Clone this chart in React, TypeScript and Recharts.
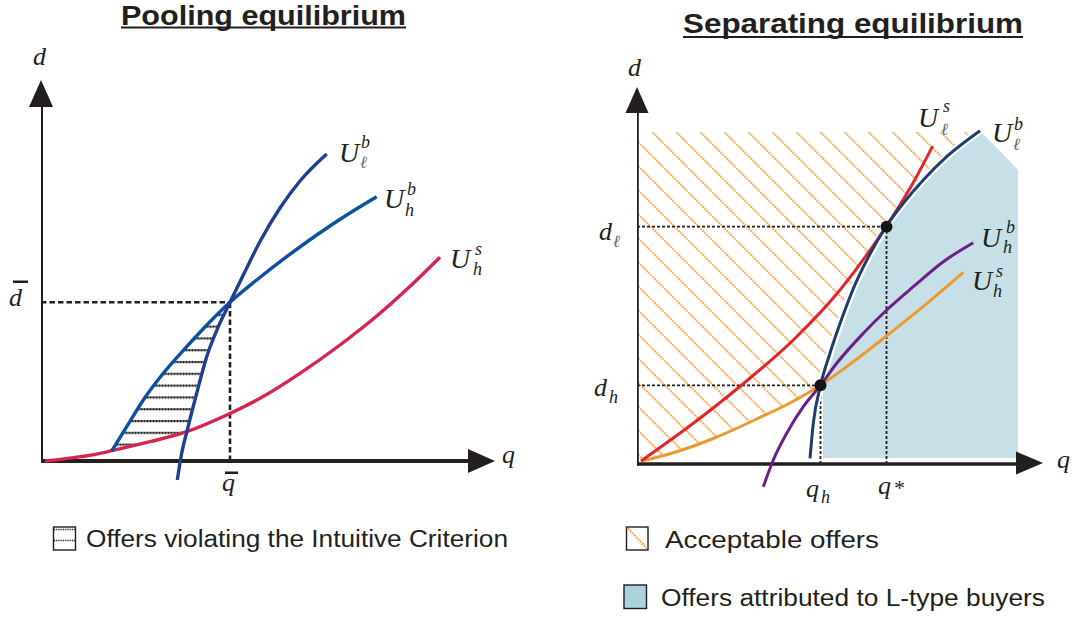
import React from "react";
import { ComposedChart, Line, Area, XAxis, YAxis, ReferenceDot } from "recharts";

// Both panels are schematic: 1 unit of q or d is drawn as 10 px.

// --- Pooling equilibrium (left panel) ---
const poolLowBuyer: [number, number][] = [
  [13.63, -1.9], [14.07, 0.77], [14.63, 3.1], [15.57, 6.77], [16.57, 10.43], [17.73, 13.43],
  [18.9, 15.87], [20.23, 18.6], [21.9, 21.95], [23.9, 25.3], [25.9, 28.0], [28.57, 30.7],
];
const poolHighBuyer: [number, number][] = [
  [7.07, 1.0], [8.57, 3.43], [10.23, 6.1], [12.23, 8.77], [14.57, 11.43], [16.9, 13.93],
  [18.9, 15.87], [21.57, 18.1], [24.57, 20.43], [27.57, 22.6], [30.57, 24.6], [33.57, 26.43],
];
const poolHighSeller: [number, number][] = [
  [0.4, 0], [5.9, 0.77], [7.07, 1.03], [10.9, 1.93], [14.57, 2.93], [18.57, 4.6],
  [21.9, 6.27], [25.9, 8.77], [29.9, 11.6], [33.9, 14.77], [37.23, 17.77], [39.9, 20.37],
];
const violatingQ = [7.07, 8.57, 10.23, 12.23, 14.55, 15.57, 16.57, 17.73, 18.9];
const violatingLo = [1.0, 1.3, 1.75, 2.25, 2.9, 6.77, 10.43, 13.43, 15.87];
const violatingHi = [1.0, 3.43, 6.1, 8.77, 11.4, 12.5, 13.6, 14.8, 15.87];
const qBar = 18.9;
const dBar = 15.87;

// --- Separating equilibrium (right panel) ---
const sepLowSeller: [number, number][] = [
  [0.4, 0.3], [5.63, 4.07], [10.47, 7.9], [15.63, 12.4], [20.3, 17.4], [24.9, 23.73],
  [27.3, 27.57], [29.57, 31.8],
];
const sepLowBuyer: [number, number][] = [
  [17.3, 0.57], [17.63, 4.07], [18.35, 7.85], [19.3, 11.08], [20.63, 14.94], [21.63, 17.54],
  [23.3, 21.0], [24.9, 23.73], [26.63, 26.07], [28.63, 28.4], [30.97, 30.73], [34.3, 33.33],
];
const sepHighBuyer: [number, number][] = [
  [12.63, -2.27], [13.63, 0.4], [14.97, 3.07], [16.63, 5.73], [18.35, 7.87], [19.97, 10.07],
  [22.63, 13.07], [24.97, 15.4], [27.63, 17.73], [30.63, 20.23], [33.63, 22.13],
];
const sepHighSeller: [number, number][] = [
  [0.4, 0.3], [3.3, 1.03], [7.63, 2.55], [11.97, 4.5], [15.3, 6.1], [18.35, 7.87],
  [21.97, 10.48], [24.97, 12.82], [28.3, 15.48], [32.63, 19.16],
];
const acceptableQ = [0, 0.4, 3.3, 7.63, 11.97, 15.3, 18.35, 19.3, 20.63, 21.63, 23.3, 24.9, 26.63, 28.63, 30.97, 34.2];
const acceptableLo = [0.1, 0.3, 1.03, 2.55, 4.5, 6.1, 7.87, 11.08, 14.94, 17.54, 21.0, 23.73, 26.07, 28.4, 30.73, 33.2];
const acceptableHi = [33.2, 33.2, 33.2, 33.2, 33.2, 33.2, 33.2, 33.2, 33.2, 33.2, 33.2, 33.2, 33.2, 33.2, 33.2, 33.2];
const attributedQ = [18.6, 19.3, 20.8, 21.9, 23.5, 25.2, 26.9, 28.9, 31.3, 34.5, 36.3, 38.1];
const attributedLo = [0.6, 0.6, 0.6, 0.6, 0.6, 0.6, 0.6, 0.6, 0.6, 0.6, 0.6, 0.6];
const attributedHi = [7.2, 9.9, 14.4, 17.3, 20.7, 23.65, 25.96, 28.3, 30.7, 33.1, 31.3, 29.4];
const qHigh = 18.35;
const dHigh = 7.87;
const qStar = 24.95;
const dLow = 23.73;

const INK = "#231f20";

const pts = (pairs: [number, number][]) => pairs.map(([q, d]) => ({ q, d }));
const band = (qs: number[], lo: number[], hi: number[]) => qs.map((q, i) => ({ q, band: [lo[i], hi[i]] }));
const seg = (a: [number, number], b: [number, number]) => pts([a, b]);

const arrowRight = (len: number, half: number) => (p: any) => (
  <polygon points={`${p.cx},${p.cy} ${p.cx - len},${p.cy - half} ${p.cx - len},${p.cy + half}`} fill={INK} />
);
const arrowUp = (len: number, half: number) => (p: any) => (
  <polygon points={`${p.cx},${p.cy} ${p.cx - half},${p.cy + len} ${p.cx + half},${p.cy + len}`} fill={INK} />
);

const serif = "'Liberation Serif', 'DejaVu Serif', serif";
const sans = "'Liberation Sans', 'DejaVu Sans', sans-serif";

function M({ x, y, s = 28, c = INK, children }: { x: number; y: number; s?: number; c?: string; children: React.ReactNode }) {
  return (
    <text x={x} y={y} fontFamily={serif} fontStyle="italic" fontSize={s} fill={c}>
      {children}
    </text>
  );
}

function PoolingChart() {
  return (
    <ComposedChart width={530} height={619} margin={{ top: 71, right: 19, bottom: 118, left: 41 }}>
      <defs>
        <pattern id="hatchH" patternUnits="userSpaceOnUse" width="3" height="11.8" y="-1.9">
          <line x1="0" y1="9.9" x2="3" y2="9.9" stroke={INK} strokeWidth="0.8" />
          <line x1="0.5" y1="8.8" x2="0.5" y2="11" stroke={INK} strokeWidth="1" />
          <line x1="2" y1="8.8" x2="2" y2="11" stroke={INK} strokeWidth="1" />
        </pattern>
      </defs>
      <XAxis type="number" dataKey="q" domain={[0, 47]} hide allowDataOverflow />
      <YAxis type="number" domain={[-4, 39]} hide allowDataOverflow width={0} />
      <Area data={band(violatingQ, violatingLo, violatingHi)} dataKey="band" type="monotone"
        fill="url(#hatchH)" fillOpacity={1} stroke="none" isAnimationActive={false} />
      <Line data={seg([0, dBar], [qBar, dBar])} dataKey="d" stroke={INK} strokeWidth={2.6}
        strokeDasharray="5.5 3" dot={false} isAnimationActive={false} />
      <Line data={seg([qBar, 0], [qBar, dBar])} dataKey="d" stroke={INK} strokeWidth={2.6}
        strokeDasharray="5.5 3" dot={false} isAnimationActive={false} />
      <Line data={seg([0, 0], [43, 0])} dataKey="d" stroke={INK} strokeWidth={4}
        strokeLinecap="square" dot={false} isAnimationActive={false} />
      <Line data={seg([0, 0], [0, 36])} dataKey="d" stroke={INK} strokeWidth={4}
        strokeLinecap="square" dot={false} isAnimationActive={false} />
      <ReferenceDot x={45.4} y={0} r={1} ifOverflow="visible" shape={arrowRight(27, 12)} />
      <ReferenceDot x={0} y={38.1} r={1} ifOverflow="visible" shape={arrowUp(27, 12)} />
      <Line data={pts(poolHighSeller)} dataKey="d" type="monotone" stroke="#d6264f" strokeWidth={3.4}
        dot={false} isAnimationActive={false} />
      <Line data={pts(poolHighBuyer)} dataKey="d" type="monotone" stroke="#0b519f" strokeWidth={3.4}
        dot={false} isAnimationActive={false} />
      <Line data={pts(poolLowBuyer)} dataKey="d" type="monotone" stroke="#1f3f8f" strokeWidth={3.4}
        dot={false} isAnimationActive={false} />
    </ComposedChart>
  );
}

function SeparatingChart() {
  return (
    <ComposedChart width={532} height={619} margin={{ top: 84, right: 15, bottom: 115, left: 97 }}>
      <defs>
        <pattern id="hatchD" patternUnits="userSpaceOnUse" width="17" height="17" patternTransform="rotate(-45)">
          <line x1="3" y1="0" x2="3" y2="17" stroke="#f29a35" strokeWidth="2.2" strokeDasharray="1.6 1.3" />
        </pattern>
      </defs>
      <XAxis type="number" dataKey="q" domain={[0, 42]} hide allowDataOverflow />
      <YAxis type="number" domain={[-4, 38]} hide allowDataOverflow width={0} />
      <Area data={band(attributedQ, attributedLo, attributedHi)} dataKey="band" type="linear"
        fill="#c7e0e7" fillOpacity={1} stroke="none" isAnimationActive={false} />
      <Area data={band(acceptableQ, acceptableLo, acceptableHi)} dataKey="band" type="monotone"
        fill="url(#hatchD)" fillOpacity={1} stroke="none" isAnimationActive={false} />
      <Line data={seg([0, dLow], [qStar, dLow])} dataKey="d" stroke={INK} strokeWidth={1.8}
        strokeDasharray="3 2" dot={false} isAnimationActive={false} />
      <Line data={seg([qStar, 0], [qStar, dLow])} dataKey="d" stroke={INK} strokeWidth={1.8}
        strokeDasharray="3 2" dot={false} isAnimationActive={false} />
      <Line data={seg([0, dHigh], [qHigh, dHigh])} dataKey="d" stroke={INK} strokeWidth={1.8}
        strokeDasharray="3 2" dot={false} isAnimationActive={false} />
      <Line data={seg([qHigh, 0], [qHigh, dHigh])} dataKey="d" stroke={INK} strokeWidth={1.8}
        strokeDasharray="3 2" dot={false} isAnimationActive={false} />
      <Line data={seg([0, 0], [38, 0])} dataKey="d" stroke={INK} strokeWidth={3.6}
        strokeLinecap="square" dot={false} isAnimationActive={false} />
      <Line data={seg([0, 0], [0, 35.5])} dataKey="d" stroke={INK} strokeWidth={3.6}
        strokeLinecap="square" dot={false} isAnimationActive={false} />
      <ReferenceDot x={40.6} y={0.1} r={1} ifOverflow="visible" shape={arrowRight(27, 11.5)} />
      <ReferenceDot x={0} y={37.7} r={1} ifOverflow="visible" shape={arrowUp(26, 11.5)} />
      <Line data={pts(sepLowBuyer)} dataKey="d" type="monotone" stroke="#ffffff" strokeWidth={7}
        dot={false} isAnimationActive={false} />
      <Line data={pts(sepHighSeller)} dataKey="d" type="monotone" stroke="#ec9a30" strokeWidth={3}
        dot={false} isAnimationActive={false} />
      <Line data={pts(sepHighBuyer)} dataKey="d" type="monotone" stroke="#6c1f84" strokeWidth={3}
        dot={false} isAnimationActive={false} />
      <Line data={pts(sepLowSeller)} dataKey="d" type="monotone" stroke="#e3252b" strokeWidth={3}
        dot={false} isAnimationActive={false} />
      <Line data={pts(sepLowBuyer)} dataKey="d" type="monotone" stroke="#1d3e6e" strokeWidth={3}
        dot={false} isAnimationActive={false} />
      <ReferenceDot x={qStar} y={dLow} r={6} fill="#151515" stroke="none" ifOverflow="visible" />
      <ReferenceDot x={qHigh} y={dHigh} r={6} fill="#151515" stroke="none" ifOverflow="visible" />
    </ComposedChart>
  );
}

function Labels() {
  return (
    <svg width={1072} height={619} style={{ position: "absolute", left: 0, top: 0, pointerEvents: "none" }}>
      {/* titles */}
      <text x={121} y={25} fontFamily={sans} fontWeight={700} fontSize={27} fill={INK}
        textLength={285} lengthAdjust="spacingAndGlyphs">Pooling equilibrium</text>
      <rect x={121} y={26.5} width={285} height={2} fill={INK} />
      <text x={683} y={33} fontFamily={sans} fontWeight={700} fontSize={27} fill={INK}
        textLength={340} lengthAdjust="spacingAndGlyphs">Separating equilibrium</text>
      <rect x={683} y={36} width={340} height={2} fill={INK} />

      {/* left panel symbols */}
      <M x={33} y={65} s={26}>d</M>
      <M x={502} y={463} s={26}>q</M>
      <M x={9} y={306} s={26}>d</M>
      <rect x={13} y={280.5} width={15} height={2.5} fill={INK} />
      <M x={222} y={491} s={26}>q</M>
      <rect x={225} y={471.5} width={13} height={2.5} fill={INK} />
      <M x={339} y={162}>U</M>
      <M x={361} y={148} s={18}>b</M>
      <M x={360} y={168} s={17} c="#666">ℓ</M>
      <M x={384} y={208}>U</M>
      <M x={407} y={195} s={18}>b</M>
      <M x={405} y={216} s={18}>h</M>
      <M x={450} y={268}>U</M>
      <M x={475} y={255} s={18}>s</M>
      <M x={473} y={275} s={18}>h</M>

      {/* right panel symbols */}
      <M x={628} y={76} s={26}>d</M>
      <M x={1057} y={468} s={26}>q</M>
      <M x={599} y={240} s={26}>d</M>
      <M x={613} y={247} s={17} c="#666">ℓ</M>
      <M x={594} y={396} s={26}>d</M>
      <M x={609} y={403} s={18}>h</M>
      <M x={806} y={497} s={26}>q</M>
      <M x={821} y={503} s={18}>h</M>
      <M x={878} y={494} s={26}>q</M>
      <M x={893} y={495} s={22}>*</M>
      <M x={918} y={127}>U</M>
      <M x={943} y={112} s={18}>s</M>
      <M x={941} y={135} s={17} c="#666">ℓ</M>
      <M x={992} y={142}>U</M>
      <M x={1014} y={130} s={18}>b</M>
      <M x={1013} y={150} s={17} c="#666">ℓ</M>
      <M x={981} y={247}>U</M>
      <M x={1006} y={233} s={18}>b</M>
      <M x={1003} y={253} s={18}>h</M>
      <M x={972} y={290}>U</M>
      <M x={996} y={277} s={18}>s</M>
      <M x={993} y={297} s={18}>h</M>

      {/* legends */}
      <rect x={53.5} y={527} width={22} height={23} fill="#fff" stroke={INK} strokeWidth={1.4} />
      <line x1={54} y1={529.5} x2={75} y2={529.5} stroke={INK} strokeWidth={1.6} strokeDasharray="1 0.8" />
      <line x1={54} y1={540.5} x2={75} y2={540.5} stroke={INK} strokeWidth={1.6} strokeDasharray="1 0.8" />
      <text x={86} y={547} fontFamily={sans} fontSize={23} fill={INK}
        textLength={422} lengthAdjust="spacingAndGlyphs">Offers violating the Intuitive Criterion</text>

      <rect x={626.5} y={527} width={21.5} height={23} fill="#fff" stroke={INK} strokeWidth={1.4} />
      <line x1={628} y1={528.5} x2={647} y2={548.5} stroke="#f29a35" strokeWidth={2.2} strokeDasharray="1.6 1.3" />
      <text x={665} y={548} fontFamily={sans} fontSize={23} fill={INK}
        textLength={214} lengthAdjust="spacingAndGlyphs">Acceptable offers</text>

      <rect x={624} y={585} width={22.5} height={23.5} fill="#a9d4dc" stroke={INK} strokeWidth={1.4} />
      <text x={661} y={606} fontFamily={sans} fontSize={23} fill={INK}
        textLength={384} lengthAdjust="spacingAndGlyphs">Offers attributed to L-type buyers</text>
    </svg>
  );
}

export default function App() {
  return (
    <div style={{ position: "absolute", left: 0, top: 0, width: 1072, height: 619, background: "#fff" }}>
      <div style={{ position: "absolute", left: 0, top: 0 }}>
        <PoolingChart />
      </div>
      <div style={{ position: "absolute", left: 540, top: 0 }}>
        <SeparatingChart />
      </div>
      <Labels />
    </div>
  );
}
